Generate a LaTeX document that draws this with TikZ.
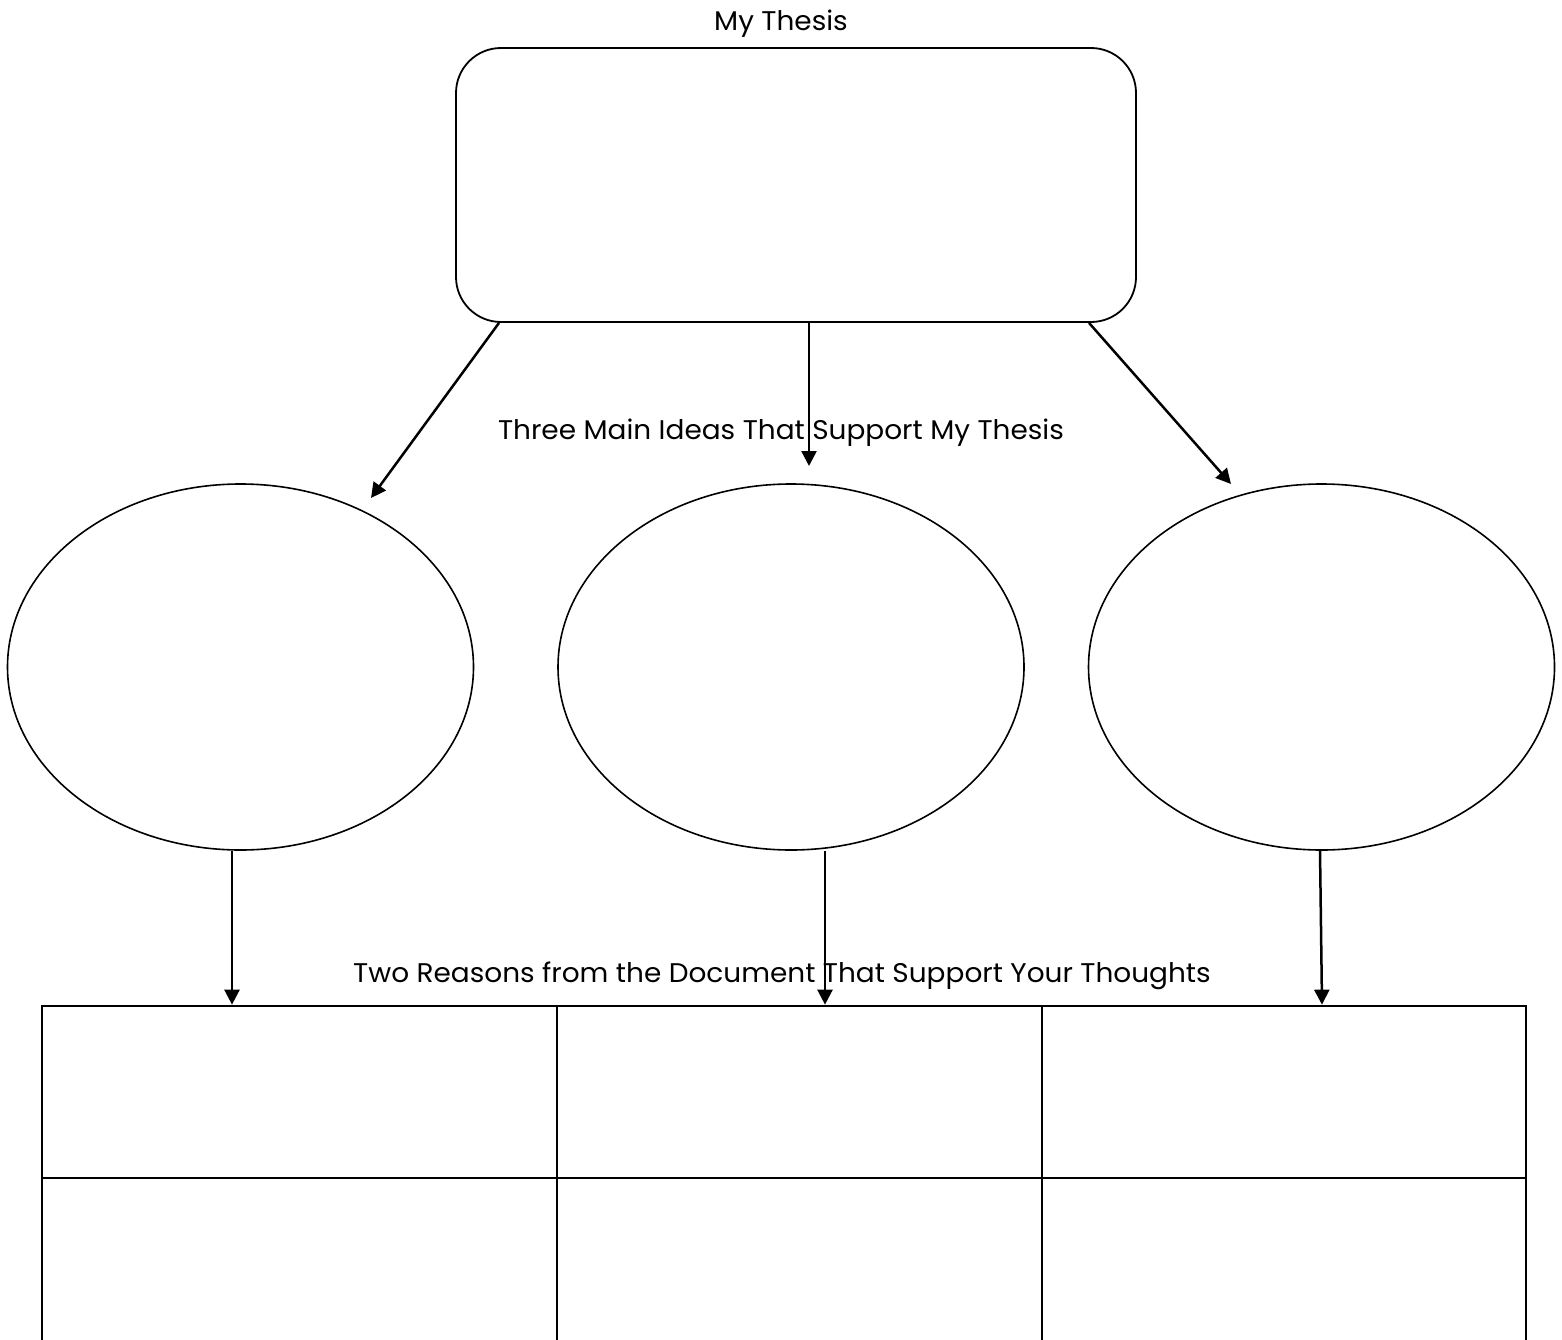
\documentclass[tikz,border=0pt]{standalone}
\usepackage{fontspec}
\setmainfont{Poppins}[FakeStretch=1.035]
\usetikzlibrary{arrows.meta,shapes.geometric,calc}
\begin{document}
\begin{tikzpicture}[x=1pt,y=-1pt,
  lbl/.style={font=\fontsize{27}{31}\selectfont, text=black, inner sep=0pt},
  bigbox/.style={draw, line width=1.8pt, rounded corners=45pt, minimum width=680pt, minimum height=274pt, inner sep=0pt},
  idea/.style={draw, ellipse, line width=1.6pt, minimum width=466pt, minimum height=366pt, inner sep=0pt},
  cell/.style={draw, line width=2.7pt, inner sep=0pt},
  conn/.style={line width=2.5pt, -{Triangle[length=15pt,width=15pt]}}]
\useasboundingbox (0,0) rectangle (1562,1340);
\fill[white] (0,0) rectangle (1562,1340);
% labels
\node[lbl] (t1) at (781,24) {My Thesis};
\node[lbl] (t2) at (781,433) {Three Main Ideas That Support My Thesis};
\node[lbl] (t3) at (782,976) {Two Reasons from the Document That Support Your Thoughts};
% thesis box
\node[bigbox] (thesis) at (796,185) {};
% ellipses
\node[idea] (e1) at (240.5,667) {};
\node[idea] (e2) at (791,667) {};
\node[idea] (e3) at (1321.5,667) {};
% table
\node[cell, minimum width=515pt, minimum height=172pt] (c11) at (299.5,1092) {};
\node[cell, minimum width=485pt, minimum height=172pt] (c12) at (799.5,1092) {};
\node[cell, minimum width=484pt, minimum height=172pt] (c13) at (1284,1092) {};
\node[cell, minimum width=515pt, minimum height=220pt] (c21) at (299.5,1288) {};
\node[cell, minimum width=485pt, minimum height=220pt] (c22) at (799.5,1288) {};
\node[cell, minimum width=484pt, minimum height=220pt] (c23) at (1284,1288) {};
% arrow tips
\coordinate (a1) at (371,498);
\coordinate (a2) at (809,466);
\coordinate (a3) at (1231,484);
% connectors
\draw[conn] ([xshift=-297pt]thesis.south) -- (a1);
\draw[conn] ([xshift=13pt]thesis.south) -- (a2);
\draw[conn] ([xshift=293pt]thesis.south) -- (a3);
\draw[conn] ([xshift=-8.5pt]e1.south) -- ([xshift=-67.5pt]c11.north);
\draw[conn] ([xshift=34pt]e2.south) -- ([xshift=25.5pt]c12.north);
\draw[conn] ([xshift=-1.5pt]e3.south) -- ([xshift=38pt]c13.north);
\end{tikzpicture}
\end{document}
